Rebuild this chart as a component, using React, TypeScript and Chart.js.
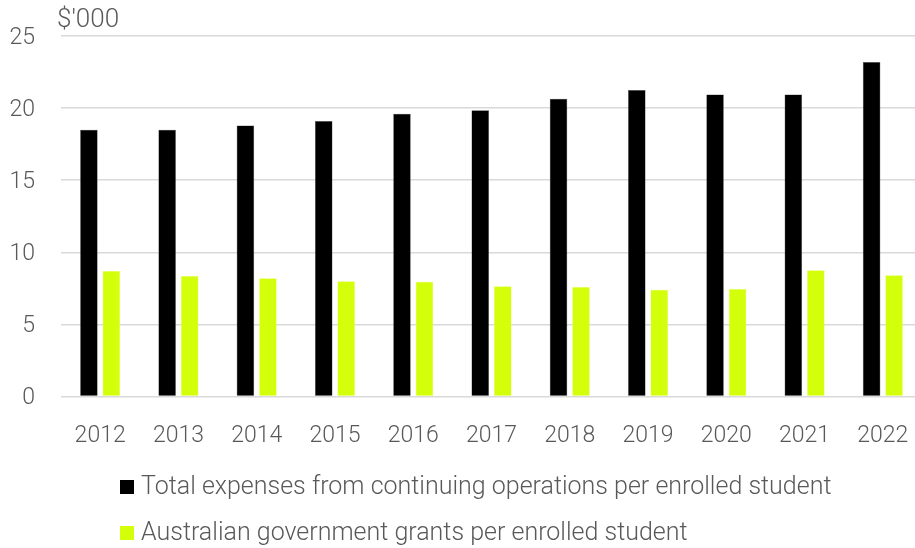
import React, { useEffect, useRef } from "react";
import { Chart, registerables } from "chart.js";

Chart.register(...registerables);

const categories = ["2012", "2013", "2014", "2015", "2016", "2017", "2018", "2019", "2020", "2021", "2022"];
const totalExpenses = [18.5, 18.5, 18.8, 19.1, 19.6, 19.85, 20.65, 21.25, 20.95, 20.95, 23.2];
const govGrants = [8.7, 8.35, 8.2, 8.0, 7.95, 7.65, 7.6, 7.4, 7.45, 8.75, 8.4];
const seriesLabels = [
  "Total expenses from continuing operations per enrolled student",
  "Australian government grants per enrolled student",
];
const yMin = 0;
const yMax = 25;
const yStep = 5;
const unitLabel = "$'000";

const FONT = "Roboto";
const TEXT_COLOR = "#595959";
const W = 922;
const H = 548;

const unitPlugin = {
  id: "unitLabel",
  afterDraw(chart: any) {
    const { ctx, chartArea } = chart;
    ctx.save();
    ctx.font = `300 26px ${FONT}`;
    ctx.fillStyle = TEXT_COLOR;
    ctx.textAlign = "left";
    ctx.textBaseline = "middle";
    ctx.fillText(unitLabel, chartArea.left - 4, 20);
    ctx.restore();
  },
};

const legendPlugin = {
  id: "stackLegend",
  afterDraw(chart: any) {
    const { ctx } = chart;
    const rows = [487, 533];
    ctx.save();
    ctx.font = `300 25px ${FONT}`;
    ctx.textAlign = "left";
    ctx.textBaseline = "middle";
    chart.data.datasets.forEach((ds: any, i: number) => {
      const y = rows[i];
      ctx.fillStyle = ds.backgroundColor;
      ctx.fillRect(120, y - 7, 14, 14);
      ctx.fillStyle = TEXT_COLOR;
      ctx.fillText(ds.label, 141, y + 1);
    });
    ctx.restore();
  },
};

export default function App() {
  const ref = useRef<HTMLCanvasElement>(null);
  useEffect(() => {
    if (!ref.current) return;
    const chart = new Chart(ref.current, {
      type: "bar",
      data: {
        labels: categories,
        datasets: [
          {
            label: seriesLabels[0],
            data: totalExpenses,
            backgroundColor: "#000000",
            borderColor: "#555555",
            borderWidth: 0.5,
          },
          {
            label: seriesLabels[1],
            data: govGrants,
            backgroundColor: "#d4ff0a",
            borderColor: "#e4ff60",
            borderWidth: 0.5,
          },
        ],
      },
      options: {
        animation: false,
        responsive: false,
        maintainAspectRatio: false,
        layout: { autoPadding: false, padding: { left: 0, right: 0, top: 36, bottom: 100 } },
        datasets: {
          bar: { categoryPercentage: 0.575, barPercentage: 0.78 },
        },
        plugins: {
          legend: { display: false },
          tooltip: { enabled: false },
        },
        scales: {
          x: {
            grid: { display: false, drawTicks: true, tickLength: 26 },
            border: { display: false },
            ticks: {
              color: TEXT_COLOR,
              font: { family: FONT, size: 23, weight: "300" },
              padding: 0,
              maxRotation: 0,
            },
            afterFit(scale: any) {
              scale.height = H - 100 - 396.5;
              scale.paddingLeft = 0;
              scale.paddingRight = 0;
            },
          },
          y: {
            min: yMin,
            max: yMax,
            grid: { color: "#d9d9d9", lineWidth: 1.5, drawTicks: false },
            border: { display: false },
            ticks: {
              stepSize: yStep,
              color: TEXT_COLOR,
              font: { family: FONT, size: 23, weight: "300" },
              padding: 26,
              labelOffset: 2,
            },
            afterFit(scale: any) {
              scale.width = 61;
              scale.paddingTop = 0;
              scale.paddingBottom = 0;
            },
          },
        },
      },
      plugins: [unitPlugin, legendPlugin],
    });
    return () => chart.destroy();
  }, []);
  return (
    <div style={{ position: "fixed", left: 0, top: 0, width: 915, height: H, overflow: "hidden", background: "#fff" }}>
      <canvas ref={ref} width={W} height={H} style={{ display: "block", width: W, height: H }} />
    </div>
  );
}
